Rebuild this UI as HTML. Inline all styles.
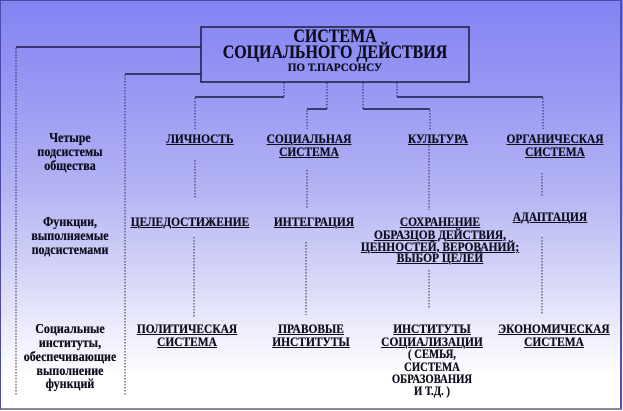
<!DOCTYPE html>
<html><head><meta charset="utf-8">
<style>
html,body{margin:0;padding:0;}
body{width:623px;height:411px;overflow:hidden;position:relative;
background:linear-gradient(#8383f3 0%,#9696f4 20%,#b2b2f4 45%,#d2d2f7 65%,#ececfb 80%,#ffffff 92%,#ffffff 100%);
font-family:"Liberation Serif","Noto Serif CJK SC",serif;font-weight:bold;color:#0e0e1e;}
.frame{position:absolute;left:0;top:0;width:619px;height:407px;border-left:1px solid #4a4aa8;border-top:1px solid #4a4aa8;border-right:2px solid #5050b0;border-bottom:2px solid #8a8a95;}
.t{position:absolute;text-align:center;white-space:nowrap;height:14px;line-height:14px;width:200px;text-shadow:0 0 0.4px #0e0e1e;}
.u{font-size:13px;text-decoration:underline;text-decoration-thickness:1px;text-underline-offset:1px;transform:scaleX(0.88);}
.m{font-size:14px;transform:scaleX(0.86);}
.p{font-size:13px;transform:scaleX(0.82);}
svg{position:absolute;left:0;top:0;}
</style></head><body>
<div class="frame"></div>
<svg width="623" height="411">
<g stroke="#1a1a40" fill="none">
<rect x="201" y="27" width="268" height="55" stroke-width="1.5"/>
<line x1="16" y1="47" x2="201" y2="47" stroke-width="1.5"/>
<line x1="125" y1="74" x2="201" y2="74" stroke-width="1.5"/>
<line x1="195" y1="97" x2="284" y2="97" stroke-width="1.5"/>
<line x1="307" y1="109" x2="327" y2="109" stroke-width="1.5"/>
<line x1="363" y1="109" x2="430" y2="109" stroke-width="1.5"/>
<line x1="397" y1="97" x2="543" y2="97" stroke-width="1.5"/>
</g>
<g stroke="#2a2a50" stroke-width="1" stroke-dasharray="1.5,1.5" fill="none">
<line x1="16" y1="48" x2="16" y2="395"/>
<line x1="125" y1="75" x2="125" y2="395"/>
<line x1="284" y1="83" x2="284" y2="97"/>
<line x1="327" y1="83" x2="327" y2="109"/>
<line x1="363" y1="83" x2="363" y2="109"/>
<line x1="397" y1="83" x2="397" y2="97"/>
<line x1="195" y1="98" x2="195" y2="129"/>
<line x1="307" y1="110" x2="307" y2="129"/>
<line x1="430" y1="110" x2="430" y2="130"/>
<line x1="543" y1="98" x2="543" y2="129"/>
<line x1="195" y1="160" x2="195" y2="198"/>
<line x1="307" y1="170" x2="307" y2="208"/>
<line x1="429" y1="146" x2="429" y2="210"/>
<line x1="542" y1="173" x2="542" y2="197"/>
<line x1="194" y1="237" x2="194" y2="317"/>
<line x1="306" y1="242" x2="306" y2="315"/>
<line x1="429" y1="270" x2="429" y2="308"/>
<line x1="542" y1="237" x2="542" y2="315"/>
</g>
</svg>

<div class="t" style="left:235px;top:26px;height:22px;line-height:22px;font-size:19px;transform:scaleX(0.84);">СИСТЕМА</div>
<div class="t" style="left:185px;top:42px;width:300px;height:22px;line-height:22px;font-size:19px;transform:scaleX(0.84);">СОЦИАЛЬНОГО ДЕЙСТВИЯ</div>
<div class="t" style="left:235px;top:60px;font-size:12px;transform:scaleX(0.93);">ПО Т.ПАРСОНСУ</div>

<div class="t m" style="left:-30px;top:132px;">Четыре</div>
<div class="t m" style="left:-30px;top:146px;">подсистемы</div>
<div class="t m" style="left:-30px;top:160px;">общества</div>

<div class="t u" style="left:100px;top:132px;">ЛИЧНОСТЬ</div>
<div class="t u" style="left:209px;top:132px;">СОЦИАЛЬНАЯ</div>
<div class="t u" style="left:209px;top:145px;">СИСТЕМА</div>
<div class="t u" style="left:338px;top:132px;">КУЛЬТУРА</div>
<div class="t u" style="left:455px;top:132px;">ОРГАНИЧЕСКАЯ</div>
<div class="t u" style="left:455px;top:145px;">СИСТЕМА</div>

<div class="t m" style="left:-30px;top:216px;">Функции,</div>
<div class="t m" style="left:-30px;top:230px;">выполняемые</div>
<div class="t m" style="left:-30px;top:244px;">подсистемами</div>

<div class="t u" style="left:90px;top:215px;">ЦЕЛЕДОСТИЖЕНИЕ</div>
<div class="t u" style="left:214px;top:215px;">ИНТЕГРАЦИЯ</div>
<div class="t u" style="left:340px;top:215px;">СОХРАНЕНИЕ</div>
<div class="t u" style="left:340px;top:228px;">ОБРАЗЦОВ ДЕЙСТВИЯ,</div>
<div class="t u" style="left:340px;top:240px;">ЦЕННОСТЕЙ, ВЕРОВАНИЙ;</div>
<div class="t u" style="left:340px;top:251px;">ВЫБОР ЦЕЛЕЙ</div>
<div class="t u" style="left:450px;top:210px;">АДАПТАЦИЯ</div>

<div class="t m" style="left:-30px;top:323px;">Социальные</div>
<div class="t m" style="left:-30px;top:337px;">институты,</div>
<div class="t m" style="left:-30px;top:351px;">обеспечивающие</div>
<div class="t m" style="left:-30px;top:365px;">выполнение</div>
<div class="t m" style="left:-30px;top:378px;">функций</div>

<div class="t u" style="left:87px;top:322px;">ПОЛИТИЧЕСКАЯ</div>
<div class="t u" style="left:87px;top:335px;">СИСТЕМА</div>
<div class="t u" style="left:211px;top:322px;">ПРАВОВЫЕ</div>
<div class="t u" style="left:211px;top:335px;">ИНСТИТУТЫ</div>
<div class="t u" style="left:332px;top:322px;">ИНСТИТУТЫ</div>
<div class="t u" style="left:332px;top:335px;">СОЦИАЛИЗАЦИИ</div>
<div class="t p" style="left:332px;top:347px;">( СЕМЬЯ,</div>
<div class="t p" style="left:332px;top:360px;">СИСТЕМА</div>
<div class="t p" style="left:332px;top:372px;">ОБРАЗОВАНИЯ</div>
<div class="t p" style="left:332px;top:384px;">И Т.Д. )</div>
<div class="t u" style="left:454px;top:322px;">ЭКОНОМИЧЕСКАЯ</div>
<div class="t u" style="left:454px;top:335px;">СИСТЕМА</div>
</body></html>
